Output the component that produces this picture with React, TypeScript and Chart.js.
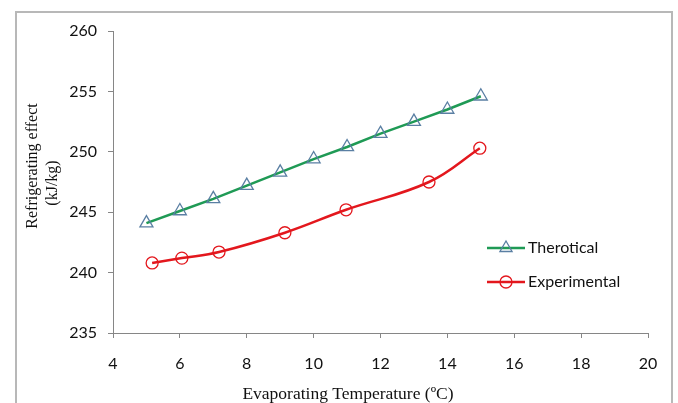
import React, { useEffect, useRef } from "react";
import { Chart, registerables } from "chart.js";

Chart.register(...registerables);

const theoTemps = [5, 6, 7, 8, 9, 10, 11, 12, 13, 14, 15];
const theoValues = [244.1, 245.1, 246.1, 247.2, 248.3, 249.4, 250.4, 251.5, 252.5, 253.5, 254.6];
const expTemps = [5.17, 6.06, 7.17, 9.14, 10.97, 13.45, 14.97];
const expValues = [240.8, 241.2, 241.7, 243.3, 245.2, 247.5, 250.3];
const seriesLabels = ["Therotical", "Experimental"];
const xTitle = "Evaporating Temperature (\u00BAC)";
const yTitleLines = ["Refrigerating effect", "(kJ/kg)"];

const GREEN = "#1f9a55";
const TRI = "#5a7fa3";
const RED = "#e3171d";
const AXIS = "#868686";
const TEXT = "#111";

const decor = {
  id: "decor",
  afterDraw(chart: any) {
    const ctx = chart.ctx as CanvasRenderingContext2D;
    ctx.save();
    // frame
    ctx.strokeStyle = "#b8b8b8";
    ctx.lineWidth = 2;
    ctx.beginPath();
    ctx.moveTo(16, 410);
    ctx.lineTo(16, 12);
    ctx.lineTo(672, 12);
    ctx.lineTo(672, 410);
    ctx.stroke();

    // x title
    ctx.fillStyle = TEXT;
    ctx.font = "17.5px 'Liberation Serif'";
    ctx.textAlign = "center";
    ctx.textBaseline = "middle";
    ctx.fillText(xTitle, 348, 394);

    // y title
    ctx.font = "16px 'Liberation Serif'";
    ctx.save();
    ctx.translate(33, 166);
    ctx.rotate(-Math.PI / 2);
    ctx.fillText(yTitleLines[0], 0, 0);
    ctx.restore();
    ctx.save();
    ctx.translate(53, 183);
    ctx.rotate(-Math.PI / 2);
    ctx.fillText(yTitleLines[1], 0, 0);
    ctx.restore();

    // legend
    const items = [
      { y: 248, color: GREEN, mk: TRI, style: "triangle", label: seriesLabels[0] },
      { y: 282, color: RED, mk: RED, style: "circle", label: seriesLabels[1] },
    ];
    ctx.font = "16px Lato";
    ctx.textAlign = "left";
    for (const it of items) {
      ctx.strokeStyle = it.color;
      ctx.lineWidth = 2.5;
      ctx.beginPath();
      ctx.moveTo(487, it.y);
      ctx.lineTo(525, it.y);
      ctx.stroke();
      ctx.strokeStyle = it.mk;
      ctx.lineWidth = 1.3;
      ctx.beginPath();
      if (it.style === "circle") {
        ctx.arc(506, it.y, 6, 0, Math.PI * 2);
      } else {
        const r = 7;
        const s = (3 * r) / Math.sqrt(3);
        const h = (s * Math.sqrt(3)) / 2;
        ctx.moveTo(506 - s / 2, it.y + h / 3);
        ctx.lineTo(506 + s / 2, it.y + h / 3);
        ctx.lineTo(506, it.y - (2 * h) / 3);
        ctx.closePath();
      }
      ctx.stroke();
      ctx.fillStyle = TEXT;
      ctx.fillText(it.label, 528, it.y);
    }
    ctx.restore();
  },
};

export default function App() {
  const ref = useRef<HTMLCanvasElement | null>(null);
  useEffect(() => {
    document.body.style.margin = "0";
    const canvas = ref.current!;
    const chart = new Chart(canvas, {
      type: "line",
      data: {
        datasets: [
          {
            label: seriesLabels[0],
            data: theoTemps.map((x, i) => ({ x, y: theoValues[i] })),
            borderColor: GREEN,
            borderWidth: 2.5,
            tension: 0,
            pointStyle: "triangle",
            pointRadius: 7.5,
            pointBorderColor: TRI,
            pointBackgroundColor: "rgba(0,0,0,0)",
            pointBorderWidth: 1.3,
          },
          {
            label: seriesLabels[1],
            data: expTemps.map((x, i) => ({ x, y: expValues[i] })),
            borderColor: RED,
            borderWidth: 2.5,
            tension: 0.4,
            pointStyle: "circle",
            pointRadius: 6,
            pointBorderColor: RED,
            pointBackgroundColor: "rgba(0,0,0,0)",
            pointBorderWidth: 1.3,
          },
        ],
      },
      options: {
        animation: false,
        responsive: false,
        devicePixelRatio: 1,
        layout: { padding: { top: 31, right: 30, left: 0, bottom: 0 } },
        plugins: { legend: { display: false }, tooltip: { enabled: false } },
        scales: {
          x: {
            type: "linear",
            min: 4,
            max: 20,
            ticks: { stepSize: 2, color: TEXT, font: { family: "Lato", size: 16 }, padding: 16 },
            grid: { drawOnChartArea: false, color: AXIS, tickLength: 5 },
            border: { color: AXIS, width: 1 },
            afterFit: (s: any) => {
              s.height = 70;
            },
          },
          y: {
            min: 235,
            max: 260,
            ticks: { stepSize: 5, color: TEXT, font: { family: "Lato", size: 16 }, padding: 11 },
            grid: { drawOnChartArea: false, color: AXIS, tickLength: 5 },
            border: { color: AXIS, width: 1 },
            afterFit: (s: any) => {
              s.width = 113;
            },
          },
        },
      },
      plugins: [decor],
    });
    return () => chart.destroy();
  }, []);
  return (
    <div style={{ position: "absolute", left: 0, top: 0, width: 678, height: 403, background: "#fff" }}>
      <canvas ref={ref} width={678} height={403} />
    </div>
  );
}
